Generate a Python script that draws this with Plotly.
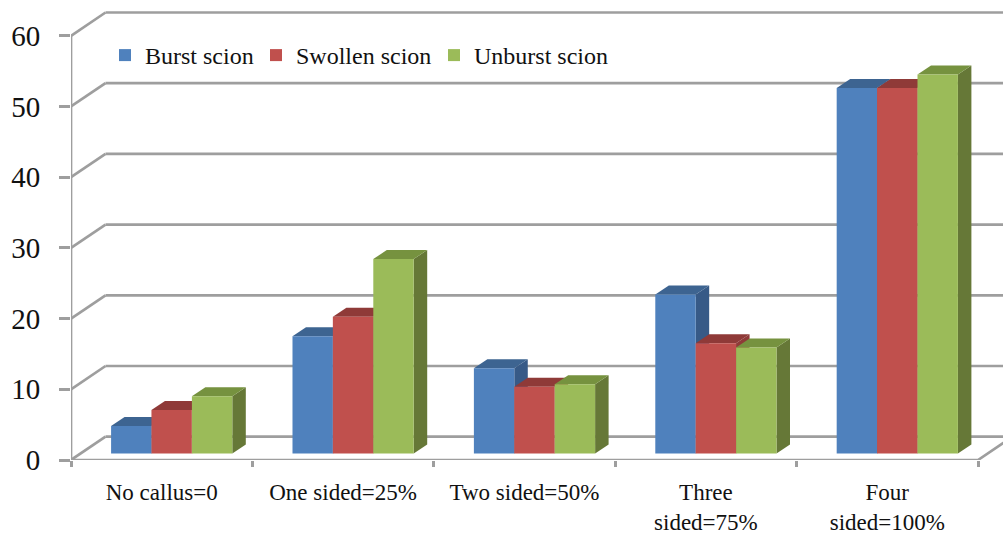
import plotly.graph_objects as go

# Chart data
categories = ["No callus=0", "One sided=25%", "Two sided=50%", "Three<br>sided=75%", "Four<br>sided=100%"]
burst = [3.9, 16.6, 12.05, 22.5, 51.7]
swollen = [6.15, 19.35, 9.45, 15.6, 51.7]
unburst = [8.1, 27.5, 9.8, 15.0, 53.6]
y_ticks = [0, 10, 20, 30, 40, 50, 60]

series = [
    ("Burst scion", burst, "#4F81BD", "#3D6491", "#375A87", -0.279, "legend", 105),
    ("Swollen scion", swollen, "#C0504D", "#8F3A38", "#8F3A38", -0.0565, "legend2", 256),
    ("Unburst scion", unburst, "#9BBB59", "#76923F", "#667837", 0.1665, "legend3", 434),
]

# Page and plot geometry
W, H = 1003, 535
LEFT, BOTTOM = 71, 75
CAT_PX = 181.4
UNIT_PX = 7.07
BAR_W = 40.4 / CAT_PX
GRID = "#9e9e9e"
LINE_W = 2.7
FONT = "Liberation Serif"

x_lo = -0.5
x_hi = x_lo + (W - LEFT) / CAT_PX
y_hi = (H - BOTTOM) / UNIT_PX

# Oblique projection: depth of the chart walls, of a bar, and the lift of the bars off the floor edge
WALL_DX, WALL_DY = 34.5 / CAT_PX, 23.3 / UNIT_PX
BAR_DX, BAR_DY = 13.5 / CAT_PX, 9.0 / UNIT_PX
LIFT = 6.5 / UNIT_PX


def polygon(xs, ys, color):
    path = "M" + " L".join(f"{x:.4f},{y:.4f}" for x, y in zip(xs, ys)) + " Z"
    return dict(type="path", path=path, xref="x", yref="y", fillcolor=color,
                line=dict(width=0), layer="below")


shapes = []

# Gridlines on the back wall
for v in y_ticks:
    shapes.append(dict(type="line", xref="x", yref="y", layer="below",
                       x0=x_lo + WALL_DX, x1=x_hi, y0=v + WALL_DY, y1=v + WALL_DY,
                       line=dict(color=GRID, width=LINE_W)))

# Top and side faces of every bar, painted left to right under the front faces
for i in range(len(categories)):
    for name, values, front, top, side, offset, legend_id, legend_px in series:
        x0 = i + offset
        x1 = x0 + BAR_W
        y1 = values[i] + LIFT
        shapes.append(polygon([x1, x1 + BAR_DX, x1 + BAR_DX, x1],
                              [LIFT, LIFT + BAR_DY, y1 + BAR_DY, y1], side))
        shapes.append(polygon([x0, x1, x1 + BAR_DX, x0 + BAR_DX],
                              [y1, y1, y1 + BAR_DY, y1 + BAR_DY], top))

fig = go.Figure()

# Front faces of the bars
for name, values, front, top, side, offset, legend_id, legend_px in series:
    fig.add_trace(go.Bar(
        name=name, x=list(range(len(categories))), y=values, base=LIFT,
        width=BAR_W, offset=offset, marker=dict(color=front, line=dict(width=0)),
        hoverinfo="skip", legend=legend_id,
    ))

# Front axis lines and the side wall / floor diagonals
frame_x = [x_lo, x_lo, None, x_lo, x_lo + 5, x_lo + 5 + WALL_DX]
frame_y = [0, y_ticks[-1], None, 0, 0, WALL_DY]
for v in y_ticks:
    frame_x += [None, x_lo, x_lo + WALL_DX]
    frame_y += [None, v, v + WALL_DY]
fig.add_trace(go.Scatter(
    x=frame_x, y=frame_y, mode="lines", cliponaxis=False, showlegend=False,
    line=dict(color=GRID, width=LINE_W), hoverinfo="skip",
))

# One single-entry legend per series so each entry sits at its own position
legends = {}
for name, values, front, top, side, offset, legend_id, legend_px in series:
    legends[legend_id] = dict(
        orientation="h", x=(legend_px - LEFT) / (W - LEFT), xanchor="left",
        y=1 - 33 / (H - BOTTOM), yanchor="top", bgcolor="rgba(0,0,0,0)",
        font=dict(family=FONT, size=24, color="#111111"),
    )

fig.update_layout(
    width=W, height=H, autosize=False,
    margin=dict(l=LEFT, r=0, t=0, b=BOTTOM, pad=0, autoexpand=False),
    paper_bgcolor="white", plot_bgcolor="white",
    barmode="overlay", shapes=shapes, showlegend=True,
    font=dict(family=FONT, color="#111111"),
    xaxis=dict(
        range=[x_lo, x_hi], showgrid=False, zeroline=False, showline=False, automargin=False,
        tickmode="array", tickvals=list(range(len(categories))), ticktext=categories,
        ticks="", ticklabelstandoff=16, tickfont=dict(family=FONT, size=23, color="#111111"),
        minor=dict(tickmode="array", tickvals=[i - 0.5 for i in range(len(categories) + 1)],
                   ticks="outside", ticklen=6, tickwidth=LINE_W, tickcolor=GRID, showgrid=False),
    ),
    yaxis=dict(
        range=[0, y_hi], showgrid=False, zeroline=False, showline=False, automargin=False,
        tickmode="array", tickvals=y_ticks, ticks="outside", ticklen=11, tickwidth=LINE_W,
        tickcolor=GRID, ticklabelstandoff=13, tickfont=dict(family=FONT, size=29, color="#111111"),
    ),
    **legends,
)

fig.write_html("out.html")
